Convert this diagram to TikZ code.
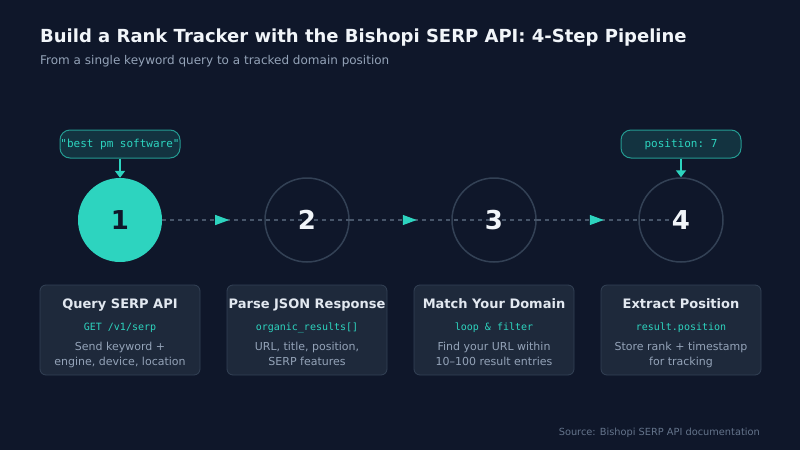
\documentclass[tikz,border=0pt]{standalone}
\usepackage{fontspec}
\setmainfont{DejaVu Sans}
\setmonofont{DejaVu Sans Mono}
\usepackage{tikz}
\usetikzlibrary{arrows.meta, positioning, decorations.markings}
\definecolor{bgnavy}{HTML}{0F172A}
\definecolor{cardfill}{HTML}{1E293B}
\definecolor{edgegray}{HTML}{334155}
\definecolor{dashgray}{HTML}{475569}
\definecolor{teal}{HTML}{2DD4BF}
\definecolor{tagfill}{HTML}{133340}
\definecolor{titlewhite}{HTML}{F1F5F9}
\definecolor{cardwhite}{HTML}{E2E8F0}
\definecolor{mutegray}{HTML}{94A3B8}
\definecolor{faintgray}{HTML}{64748B}
\tikzstyle{stepnode} = [circle, draw=edgegray, line width=1.5pt, minimum size=84pt, inner sep=0pt]
\tikzstyle{firstnode} = [circle, fill=teal, minimum size=84pt, inner sep=0pt]
\tikzstyle{numlabel} = [text=titlewhite, font=\bfseries\fontsize{26}{30}\selectfont]
\tikzstyle{card} = [rounded corners=6pt, fill=cardfill, draw=edgegray, line width=0.8pt, minimum width=160pt, minimum height=90pt]
\tikzstyle{cardtitle} = [anchor=base, text=cardwhite, font=\bfseries\fontsize{13}{15}\selectfont, inner sep=0pt]
\tikzstyle{cardcode} = [anchor=base, text=teal, font=\ttfamily\fontsize{10}{12}\selectfont, inner sep=0pt]
\tikzstyle{carddesc} = [anchor=base, text=mutegray, align=center, font=\fontsize{11}{15}\selectfont, inner sep=0pt]
\tikzstyle{tag} = [rounded corners=10pt, fill=tagfill, draw=teal!70!bgnavy, line width=1pt, minimum width=120pt, minimum height=28pt, inner sep=0pt, text=teal, font=\ttfamily\fontsize{11}{13}\selectfont]
\tikzstyle{tagline} = [draw=teal, line width=2pt, -{Triangle[length=7pt,width=10pt]}]
\tikzstyle{flow} = [draw=dashgray, line width=1.2pt, dash pattern=on 4pt off 4pt,
  postaction={decorate}, decoration={markings, mark=at position 67pt with {\arrow[teal, solid]{Triangle[length=14pt,width=10pt]}}}]

\begin{document}
\begin{tikzpicture}[x=1pt, y=-1pt]
	\fill [bgnavy] (0, 0) rectangle (800, 450);
	\useasboundingbox (0, 0) rectangle (800, 450);

	\node [anchor=base west, inner sep=0pt, text=titlewhite, font=\bfseries\fontsize{18}{22}\selectfont] (title) at (40, 42) {Build a Rank Tracker with the Bishopi SERP API: 4-Step Pipeline};
	\node [anchor=base west, inner sep=0pt, text=mutegray, font=\fontsize{12}{14}\selectfont] (subtitle) at (40, 64) {From a single keyword query to a tracked domain position};

	% steps
	\node [firstnode] (query) at (120, 220) {};
	\node [stepnode] (parse) at (307, 220) {};
	\node [stepnode] (match) at (494, 220) {};
	\node [stepnode] (extract) at (681, 220) {};

	\path [flow] (query.east) -- (parse.east);
	\path [flow] (parse.east) -- (match.east);
	\path [flow] (match.east) -- ([xshift=-11pt]extract.center);

	\node [numlabel, text=bgnavy] at (query) {1};
	\node [numlabel] at (parse) {2};
	\node [numlabel] at (match) {3};
	\node [numlabel] at (extract) {4};

	% tags
	\node [tag] (keyword) at (120, 144) {"best pm software"};
	\node [tag] (rank) at (681, 144) {position: 7};
	\path [tagline] (keyword) -- (query);
	\path [tagline] (rank) -- (extract);

	% cards
	\node [card] (querycard) at (120, 330) {};
	\node [card] (parsecard) at (307, 330) {};
	\node [card] (matchcard) at (494, 330) {};
	\node [card] (extractcard) at (681, 330) {};

	\node [cardtitle] at (120, 308) {Query SERP API};
	\node [cardcode] at (120, 330) {GET /v1/serp};
	\node [carddesc] at (120, 365) {Send keyword +\\engine, device, location};

	\node [cardtitle] at (307, 308) {Parse JSON Response};
	\node [cardcode] at (307, 330) {organic\_results[]};
	\node [carddesc] at (307, 365) {URL, title, position,\\SERP features};

	\node [cardtitle] at (494, 308) {Match Your Domain};
	\node [cardcode] at (494, 330) {loop \& filter};
	\node [carddesc] at (494, 365) {Find your URL within\\10–100 result entries};

	\node [cardtitle] at (681, 308) {Extract Position};
	\node [cardcode] at (681, 330) {result.position};
	\node [carddesc] at (681, 365) {Store rank + timestamp\\for tracking};

	\node [anchor=base east, inner sep=0pt, text=faintgray, font=\fontsize{9.8}{12}\selectfont] (source) at (760, 435) {Source: Bishopi SERP API documentation};
\end{tikzpicture}
\end{document}
